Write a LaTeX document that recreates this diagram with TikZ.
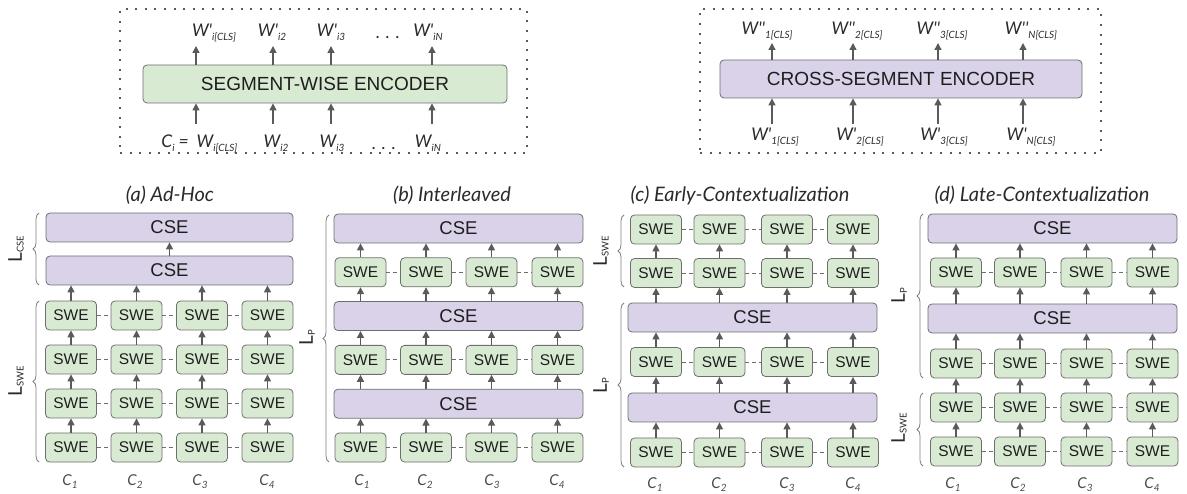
\documentclass[tikz,border=0pt]{standalone}
\usepackage{fontspec}
\setmainfont{Liberation Sans}
\newfontfamily\lato{Lato}
\usetikzlibrary{arrows.meta,decorations.pathreplacing}
\definecolor{swefill}{HTML}{D9EAD3}
\definecolor{csefill}{HTML}{D9D2E9}
\definecolor{boxline}{HTML}{6E6E6E}
\definecolor{arrcol}{HTML}{5A5A5A}
\definecolor{txt}{HTML}{1E1E1E}
\definecolor{lab}{HTML}{2A2A2A}
\newcommand{\lsub}[1]{\raisebox{-0.4ex}{\fontsize{10}{11}\selectfont #1}}
\newcommand{\Lsub}[1]{\raisebox{-0.2ex}{\fontsize{9.5}{10}\selectfont #1}}
\tikzset{
  swe/.style={draw=boxline, fill=swefill, rounded corners=4pt, line width=0.8pt,
    minimum width=51pt, minimum height=29pt, inner sep=0pt, text=txt,
    font=\fontsize{15.5}{15.5}\selectfont},
  cse/.style={swe, fill=csefill, minimum width=249pt, font=\fontsize{18.5}{18.5}\selectfont},
  big/.style={minimum height=38pt, font=\fontsize{19}{19}\selectfont},
  arr/.style={draw=arrcol, line width=1.4pt, -{Triangle[length=7pt,width=7pt]}},
  dsh/.style={draw=boxline, line width=0.8pt, dash pattern=on 4pt off 3pt},
  brc/.style={draw=gray, line width=0.8pt, decorate, decoration={brace, amplitude=6pt}},
  dotbox/.style={draw=arrcol, line width=2pt, dash pattern=on 2pt off 7.6pt, inner sep=0pt},
  ttl/.style={font=\lato\itshape\fontsize{20}{20}\selectfont, text=lab},
  wlab/.style={font=\lato\itshape\fontsize{17.5}{17.5}\selectfont, text=lab, anchor=base, inner sep=0pt},
  clab/.style={font=\lato\itshape\fontsize{15}{15}\selectfont, text=lab!85, inner sep=0pt},
  llab/.style={font=\lato\fontsize{19}{19}\selectfont, text=lab, rotate=90, inner sep=0pt},
}
\begin{document}
\begin{tikzpicture}[x=1pt,y=-1pt]
\useasboundingbox (0,0) rectangle (1187,494);

% ---------------- top-left: segment-wise encoder ----------------
\node[dotbox, minimum width=407pt, minimum height=144pt] (frameL) at (323.5,81) {};
\node[swe, big, minimum width=364pt] (segenc) at (325,84) {SEGMENT-WISE ENCODER};
\foreach \i/\x in {1/196,2/273,3/331,4/432}{
  \coordinate (tl\i) at (\x,46);
  \coordinate (bl\i) at (\x,124);
  \draw[arr] (segenc.north -| tl\i) -- (tl\i);
  \draw[arr] (bl\i) -- (segenc.south -| bl\i);
}
\node[wlab] (wo1) at (214,37) {W'\lsub{i[CLS]}};
\node[wlab] (wo2) at (272,37) {W'\lsub{i2}};
\node[wlab] (wo3) at (331,37) {W'\lsub{i3}};
\node[wlab] (wo4) at (388,39) {.\,\,.\,\,.};
\node[wlab] (wo5) at (428,37) {W'\lsub{iN}};
\node[wlab, anchor=base east] (ci) at (189,148) {C\lsub{i} =};
\node[wlab] (wi1) at (217,148) {W\lsub{i[CLS]}};
\node[wlab] (wi2) at (276,148) {W\lsub{i2}};
\node[wlab] (wi3) at (332,148) {W\lsub{i3}};
\node[wlab] (wi4) at (384,150) {.\,\,.\,\,.};
\node[wlab] (wi5) at (428,148) {W\lsub{iN}};

% ---------------- top-right: cross-segment encoder ----------------
\node[dotbox, minimum width=401pt, minimum height=144pt] (frameR) at (900.5,81) {};
\node[cse, big, minimum width=362pt] (crossenc) at (901,79) {CROSS-SEGMENT ENCODER};
\foreach \i/\x in {1/772,2/853,3/938,4/1023}{
  \coordinate (tr\i) at (\x,43);
  \coordinate (br\i) at (\x,124);
  \draw[arr] (crossenc.north -| tr\i) -- (tr\i);
  \draw[arr] (br\i) -- (crossenc.south -| br\i);
}
\node[wlab] (xo1) at (767,35) {W''\lsub{1[CLS]}};
\node[wlab] (xo2) at (857,35) {W''\lsub{2[CLS]}};
\node[wlab] (xo3) at (942,35) {W''\lsub{3[CLS]}};
\node[wlab] (xo4) at (1031,35) {W''\lsub{N[CLS]}};
\node[wlab] (xi1) at (775,141) {W'\lsub{1[CLS]}};
\node[wlab] (xi2) at (860,141) {W'\lsub{2[CLS]}};
\node[wlab] (xi3) at (944,141) {W'\lsub{3[CLS]}};
\node[wlab] (xi4) at (1031,141) {W'\lsub{N[CLS]}};

% ---------------- (a) Ad-Hoc ----------------
\node[ttl] (ta) at (170,195) {(a) Ad-Hoc};
\foreach \c/\x in {1/71,2/136.5,3/202,4/267.5}{
  \foreach \r/\y in {1/315.5,2/359.5,3/403.5,4/447.5}{
    \node[swe] (a\r\c) at (\x,\y) {SWE};
  }
}
\node[cse, minimum width=247pt] (aC1) at (169.5,227.5) {CSE};
\node[cse, minimum width=247pt] (aC2) at (169.5,270.5) {CSE};
\foreach \r in {1,2,3,4}{
  \draw[dsh] (a\r1.east) -- (a\r2.west);
  \draw[dsh] (a\r2.east) -- (a\r3.west);
  \draw[dsh] (a\r3.east) -- (a\r4.west);
}
\foreach \c in {1,2,3,4}{
  \draw[arr] (a4\c.north) -- (a3\c.south);
  \draw[arr] (a3\c.north) -- (a2\c.south);
  \draw[arr] (a2\c.north) -- (a1\c.south);
  \draw[arr] (a1\c.north) -- (a1\c.north |- aC2.south);
}
\draw[arr] (aC2.north) -- (aC1.south);
\foreach \c/\x in {1/70,2/135,3/200,4/267}{
  \node[clab] (ac\c) at (\x,482) {C\lsub{\c}};
}
\draw[brc] (39,285) -- (39,213);
\draw[brc] (39,462) -- (39,301);
\node[llab] (aLc) at (16,249) {L\Lsub{CSE}};
\node[llab] (aLs) at (16,381) {L\Lsub{SWE}};

% ---------------- (b) Interleaved ----------------
\node[ttl] (tb) at (452,195) {(b) Interleaved};
\foreach \c/\x in {1/360.5,2/426,3/491.5,4/557.5}{
  \foreach \r/\y in {1/272.3,2/359.9,3/447.5}{
    \node[swe] (b\r\c) at (\x,\y) {SWE};
  }
}
\node[cse] (bC1) at (458.5,228.5) {CSE};
\node[cse] (bC2) at (458.5,316.1) {CSE};
\node[cse] (bC3) at (458.5,403.7) {CSE};
\foreach \r in {1,2,3}{
  \draw[dsh] (b\r1.east) -- (b\r2.west);
  \draw[dsh] (b\r2.east) -- (b\r3.west);
  \draw[dsh] (b\r3.east) -- (b\r4.west);
}
\foreach \c in {1,2,3,4}{
  \draw[arr] (b3\c.north) -- (b3\c.north |- bC3.south);
  \draw[arr] (bC3.north -| b2\c.south) -- (b2\c.south);
  \draw[arr] (b2\c.north) -- (b2\c.north |- bC2.south);
  \draw[arr] (bC2.north -| b1\c.south) -- (b1\c.south);
  \draw[arr] (b1\c.north) -- (b1\c.north |- bC1.south);
}
\foreach \c/\x in {1/362,2/425,3/492,4/557}{
  \node[clab] (bc\c) at (\x,482) {C\lsub{\c}};
}
\draw[brc] (329,462) -- (329,215);
\node[llab] (bLp) at (307,338) {L\Lsub{P}};

% ---------------- (c) Early-Contextualization ----------------
\node[ttl] (tc) at (740,195) {(c) Early-Contextualization};
\foreach \c/\x in {1/656,2/719.5,3/787,4/853}{
  \foreach \r/\y in {1/229.5,2/273,3/362,4/452.5}{
    \node[swe] (c\r\c) at (\x,\y) {SWE};
  }
}
\node[cse] (cC1) at (752.5,317.5) {CSE};
\node[cse] (cC2) at (752.5,407.5) {CSE};
\foreach \r in {1,2,3,4}{
  \draw[dsh] (c\r1.east) -- (c\r2.west);
  \draw[dsh] (c\r2.east) -- (c\r3.west);
  \draw[dsh] (c\r3.east) -- (c\r4.west);
}
\foreach \c in {1,2,3,4}{
  \draw[arr] (c4\c.north) -- (c4\c.north |- cC2.south);
  \draw[arr] (cC2.north -| c3\c.south) -- (c3\c.south);
  \draw[arr] (c3\c.north) -- (c3\c.north |- cC1.south);
  \draw[arr] (cC1.north -| c2\c.south) -- (c2\c.south);
  \draw[arr] (c2\c.north) -- (c1\c.south);
}
\foreach \c/\x in {1/655,2/719,3/787,4/853}{
  \node[clab] (cc\c) at (\x,485) {C\lsub{\c}};
}
\draw[brc] (624,287) -- (624,215);
\draw[brc] (624,467) -- (624,303);
\node[llab] (cLs) at (601,251) {L\Lsub{SWE}};
\node[llab] (cLp) at (601,386) {L\Lsub{P}};

% ---------------- (d) Late-Contextualization ----------------
\node[ttl] (td) at (1042,195) {(d) Late-Contextualization};
\foreach \c/\x in {1/956,2/1020,3/1086.5,4/1152.5}{
  \foreach \r/\y in {1/272.5,2/363.5,3/407.5,4/451.5}{
    \node[swe] (d\r\c) at (\x,\y) {SWE};
  }
}
\node[cse] (dC1) at (1052.5,228.5) {CSE};
\node[cse] (dC2) at (1052.5,318.5) {CSE};
\foreach \r in {1,2,3,4}{
  \draw[dsh] (d\r1.east) -- (d\r2.west);
  \draw[dsh] (d\r2.east) -- (d\r3.west);
  \draw[dsh] (d\r3.east) -- (d\r4.west);
}
\foreach \c in {1,2,3,4}{
  \draw[arr] (d4\c.north) -- (d3\c.south);
  \draw[arr] (d3\c.north) -- (d2\c.south);
  \draw[arr] (d2\c.north) -- (d2\c.north |- dC2.south);
  \draw[arr] (dC2.north -| d1\c.south) -- (d1\c.south);
  \draw[arr] (d1\c.north) -- (d1\c.north |- dC1.south);
}
\foreach \c/\x in {1/953,2/1018,3/1085,4/1152}{
  \node[clab] (dc\c) at (\x,485) {C\lsub{\c}};
}
\draw[brc] (923,378) -- (923,214);
\draw[brc] (923,466) -- (923,393);
\node[llab] (dLp) at (899,296) {L\Lsub{P}};
\node[llab] (dLs) at (899,428) {L\Lsub{SWE}};
\end{tikzpicture}
\end{document}
